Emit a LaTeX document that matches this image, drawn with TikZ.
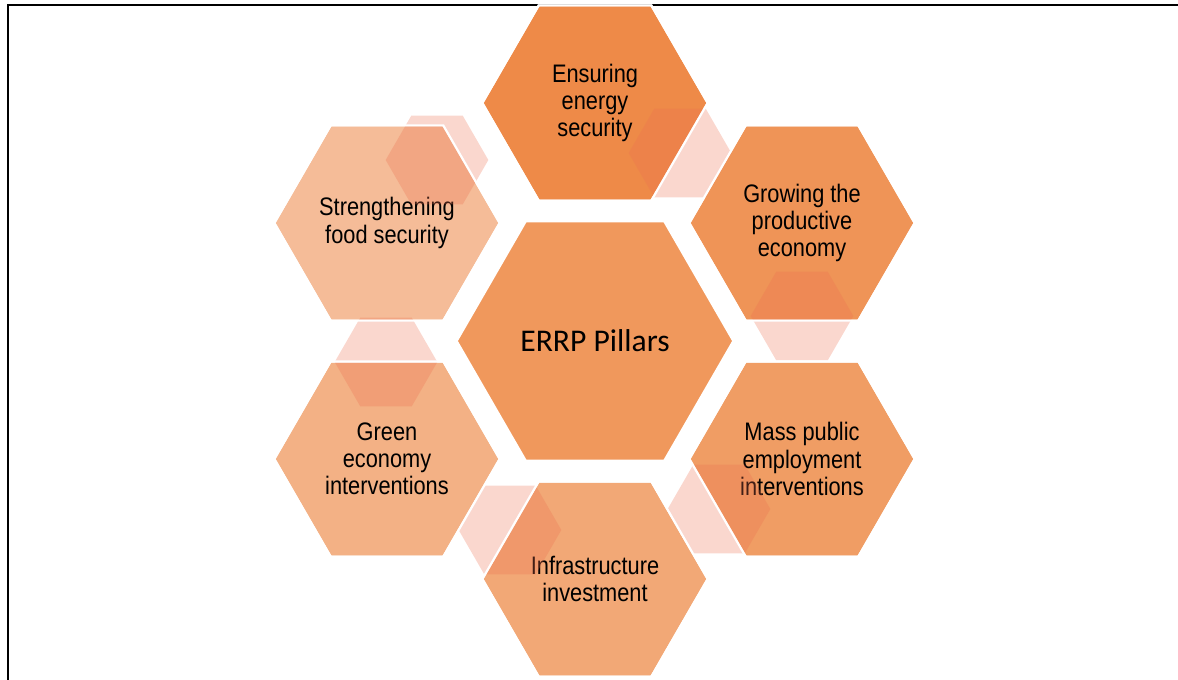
\documentclass[tikz,border=0pt]{standalone}
\usepackage{fontspec}
\setmainfont{Liberation Sans}[FakeStretch=0.86]
\newfontfamily\pillarfont{Carlito}
\usetikzlibrary{shapes.geometric}
\definecolor{HexEnergy}{HTML}{EE8A48}
\definecolor{HexGrowth}{HTML}{EF9457}
\definecolor{HexJobs}{HTML}{F09D64}
\definecolor{HexInfra}{HTML}{F2A876}
\definecolor{HexGreen}{HTML}{F3B185}
\definecolor{HexFood}{HTML}{F5BC98}
\definecolor{HexCore}{HTML}{F0985C}
\definecolor{LinkOrange}{HTML}{EC7050}

\begin{document}
\begin{tikzpicture}[
  x=0.75pt, y=-0.75pt,
  hexbig/.style={regular polygon,regular polygon sides=6,
                 minimum size=169pt,inner sep=0pt,outer sep=0pt,draw=white,line width=1.6pt,
                 align=center,text=black,font=\fontsize{19}{20.4}\selectfont},
  hexcore/.style={hexbig,minimum size=207.5pt,font=\pillarfont\fontsize{23.7}{28}\selectfont},
  hexlink/.style={regular polygon,regular polygon sides=6,
                  minimum size=77pt,inner sep=0pt,outer sep=0pt,fill=LinkOrange,fill opacity=0.28},
  rim/.style={fill=none,draw=white,line width=1.6pt},
]
\useasboundingbox (0,0) rectangle (1178,679);
% frame
\draw[line width=2.2pt] (8,700) -- (8,5) -- (1190,5);

% pillars
\node[hexcore,fill=HexCore]  (core)   at (595,341) {ERRP Pillars};
\node[hexbig,fill=HexEnergy] (energy) at (595,103) {Ensuring\\energy\\security};
\node[hexbig,fill=HexGrowth] (growth) at (802,223) {Growing the\\productive\\economy};
\node[hexbig,fill=HexJobs]   (jobs)   at (802,459) {Mass public\\employment\\interventions};
\node[hexbig,fill=HexInfra]  (infra)  at (595,579) {Infrastructure\\investment};
\node[hexbig,fill=HexGreen]  (green)  at (387,459) {Green\\economy\\interventions};
\node[hexbig,fill=HexFood]   (food)   at (387,223) {Strengthening\\food security};

% small linking hexagons
\node[hexlink] (food-energy)  at (437,160) {};
\node[hexlink] (energy-growth) at (680,153) {};
\node[hexlink] (growth-jobs)  at (802,316) {};
\node[hexlink] (jobs-infra)   at (719,509) {};
\node[hexlink] (infra-green)  at (510,530) {};
\node[hexlink] (green-food)   at (386,362) {};

% white rims over the links
\foreach \n in {energy,growth,jobs,infra,green,food}
  \node[hexbig,rim] (\n-rim) at (\n.center) {};
\end{tikzpicture}
\end{document}
